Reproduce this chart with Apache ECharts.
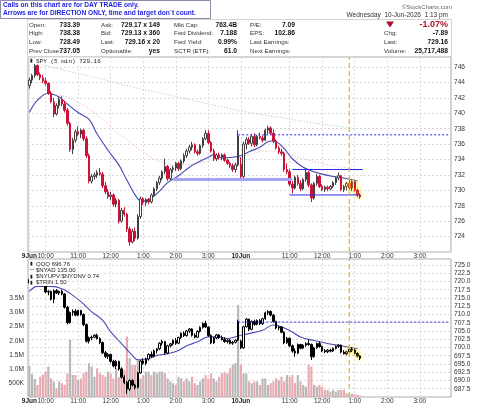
<!DOCTYPE html>
<html>
<head>
<meta charset="utf-8">
<script src="https://cdn.jsdelivr.net/npm/echarts@6/dist/echarts.min.js"></script>
<style>
  html, body { margin: 0; padding: 0; background: #fff; }
  #chart { width: 480px; height: 406px; }
</style>
</head>
<body>
<div id="chart"></div>
<script>
// two sessions of 5 min bars, 9:30 -> 4:00 (78 bars each)
const sessions = ['9Jun', '10Jun'];
const barsPerDay = 78;
const sessionTicks = [
  ['10:00', '11:00', '12:00', '1:00', '2:00', '3:00'],
  ['11:00', '12:00', '1:00', '2:00', '3:00']
];

// SPY 5 min bars [open, high, low, close]
const spyBars = [
  [743.6,744.6,743.2,744.3],[744.3,745.1,743.9,744.9],[744.9,746.4,744.6,746.2],[746.2,746.6,744.8,745.0],
  [745.0,745.3,744.3,744.6],[744.6,745.0,743.9,744.2],[744.2,744.6,743.6,743.9],[743.9,744.0,742.4,742.6],
  [742.6,742.9,741.3,741.5],[741.5,742.0,739.5,739.9],[739.9,741.3,739.7,741.0],[741.0,742.1,740.6,741.8],
  [741.8,742.2,740.9,741.2],[741.2,741.6,740.1,740.4],[740.4,740.7,738.4,738.7],[738.7,738.9,735.0,735.3],
  [735.3,736.8,734.7,736.5],[736.5,737.9,736.2,737.6],[737.6,738.3,737.0,737.3],[737.3,738.0,736.8,737.8],
  [737.8,738.0,736.4,736.7],[736.7,737.0,734.2,734.5],[734.5,734.8,730.9,731.2],[731.2,732.1,730.9,731.8],
  [731.8,732.3,731.4,732.0],[732.0,732.6,731.6,732.3],[732.3,732.9,731.9,732.1],[732.1,732.4,730.3,730.6],
  [730.6,731.1,729.5,729.8],[729.8,730.2,728.9,729.2],[729.2,729.8,728.7,729.4],[729.4,729.6,727.9,728.2],
  [728.2,729.0,727.8,728.7],[728.7,728.9,725.7,726.0],[726.0,727.7,725.8,727.4],[727.4,727.8,726.6,726.9],
  [726.9,727.1,724.6,725.0],[725.0,725.3,722.8,723.3],[723.3,725.0,723.1,724.7],[724.7,725.2,723.4,723.8],
  [723.8,726.9,723.6,726.6],[726.6,729.2,726.3,728.9],[728.9,729.1,728.1,728.4],[728.4,729.0,728.0,728.8],
  [728.8,729.0,728.2,728.5],[728.5,729.6,728.3,729.4],[729.4,730.4,729.2,730.2],[730.2,731.2,729.9,731.0],
  [731.0,731.9,730.7,731.6],[731.6,732.6,731.3,732.4],[732.4,734.1,732.1,733.1],[733.1,733.3,731.2,731.5],
  [731.5,732.9,731.3,732.7],[732.7,733.2,732.3,732.9],[732.9,733.7,732.5,733.5],[733.5,733.7,732.5,732.8],
  [732.8,734.0,732.6,733.8],[733.8,734.8,733.5,734.5],[734.5,735.4,734.2,735.1],[735.1,735.9,734.8,735.6],
  [735.6,736.3,735.2,735.9],[735.9,736.1,734.8,735.0],[735.0,735.3,734.5,734.8],[734.8,736.0,734.6,735.8],
  [735.8,736.9,735.5,736.7],[736.7,737.8,736.5,737.4],[737.4,737.8,736.0,736.2],[736.2,736.4,734.9,735.1],
  [735.1,735.4,733.8,734.1],[734.1,734.8,733.8,734.6],[734.6,734.9,734.0,734.3],[734.3,734.8,733.9,734.6],
  [734.6,734.8,733.7,733.9],[733.9,734.1,733.3,733.5],[733.5,733.7,732.9,733.2],[733.2,733.5,732.4,732.7],
  [732.7,733.6,732.3,733.3],[733.3,737.8,733.1,737.05],
  [733.39,734.3,731.4,731.8],[731.8,736.3,731.6,736.0],[736.0,736.9,735.3,736.6],[736.6,736.9,735.9,736.1],
  [736.1,737.3,735.7,737.0],[737.0,737.4,735.6,735.9],[735.9,737.2,735.7,737.0],[737.0,737.5,736.6,736.8],
  [736.8,737.1,736.2,736.5],[736.5,738.0,736.4,737.8],[737.8,738.38,737.3,738.1],[738.1,738.3,737.2,737.4],
  [737.4,737.9,736.1,736.4],[736.4,736.6,735.3,735.5],[735.5,735.8,734.7,735.0],[735.0,735.4,734.5,734.8],
  [734.8,735.0,732.4,732.7],[732.7,733.5,732.1,732.4],[732.4,732.8,730.5,730.8],[730.8,731.2,729.6,730.3],
  [730.3,731.9,730.1,731.7],[731.7,732.0,730.6,730.9],[730.9,731.3,729.9,730.2],[730.2,731.6,730.0,731.4],
  [731.4,732.8,731.1,732.3],[732.3,732.5,730.4,730.7],[730.7,730.9,728.49,729.0],[729.0,731.1,728.8,730.9],
  [730.9,732.1,730.6,731.8],[731.8,732.0,730.3,730.5],[730.5,730.8,729.9,730.1],[730.1,730.6,729.8,730.4],
  [730.4,730.6,729.9,730.2],[730.2,730.7,730.0,730.5],[730.5,731.2,730.3,731.0],[731.0,731.8,730.7,731.6],
  [731.6,732.3,731.3,731.9],[731.9,732.0,729.9,730.1],[730.1,730.7,729.8,730.5],[730.5,731.1,730.0,730.9],
  [730.9,731.4,730.1,730.3],[730.3,731.3,729.9,731.1],[731.1,731.2,729.8,730.0],[730.0,730.2,729.1,729.4],
  [729.4,729.6,728.9,729.16]
];

// QQQ 5 min bars [open, high, low, close]
const qqqBars = [
  [719.5,721.0,719.0,720.6],[720.6,722.0,720.3,721.7],[721.7,723.2,721.4,722.9],[722.9,723.5,721.2,721.6],
  [721.6,722.0,720.0,720.4],[720.4,720.8,718.9,719.3],[719.3,719.6,716.4,716.8],[716.8,717.3,715.8,717.0],
  [717.0,717.2,714.2,714.6],[714.6,717.6,713.4,717.2],[717.2,717.7,716.2,716.5],[716.5,717.3,715.9,717.0],
  [717.0,717.5,715.8,716.2],[716.2,716.5,711.8,712.2],[712.2,712.6,707.0,707.5],[707.5,710.9,707.2,710.6],
  [710.6,711.5,709.6,711.0],[711.0,711.6,709.4,709.8],[709.8,711.4,709.5,711.2],[711.2,711.4,709.6,710.0],
  [710.0,710.3,706.5,706.9],[706.9,707.3,701.5,701.9],[701.9,703.3,701.2,702.9],[702.9,703.6,702.2,703.1],
  [703.1,704.0,702.8,703.7],[703.7,704.2,702.4,702.7],[702.7,703.1,701.0,701.5],[701.5,701.8,698.0,698.4],
  [698.4,698.9,696.8,697.3],[697.3,698.3,696.5,697.9],[697.9,698.1,695.4,695.8],[695.8,696.3,694.0,694.4],
  [694.4,696.2,693.5,695.8],[695.8,696.0,693.0,693.5],[693.5,694.0,690.6,691.0],[691.0,691.6,688.9,689.4],
  [689.4,689.8,686.0,687.4],[687.4,690.3,686.8,690.0],[690.0,690.4,688.2,688.6],[688.6,689.0,687.3,687.9],
  [687.9,692.6,687.6,692.3],[692.3,696.2,692.0,695.9],[695.9,696.8,694.8,695.2],[695.2,696.9,694.6,696.5],
  [696.5,698.2,696.0,697.9],[697.9,698.8,696.9,697.3],[697.3,699.4,697.0,699.0],[699.0,699.8,698.2,699.6],
  [699.6,701.6,699.2,701.3],[701.3,702.3,700.6,701.8],[701.8,702.0,697.9,698.3],[698.3,700.8,698.0,700.5],
  [700.5,701.4,700.0,701.1],[701.1,702.5,700.6,702.1],[702.1,702.9,700.8,701.3],[701.3,703.3,701.0,703.0],
  [703.0,704.6,702.6,704.3],[704.3,704.9,703.2,703.6],[703.6,705.3,703.3,705.0],[705.0,705.9,704.4,705.6],
  [705.6,705.8,703.3,703.7],[703.7,704.3,702.8,703.1],[703.1,705.2,702.9,704.9],[704.9,706.4,704.5,706.1],
  [706.1,707.6,705.7,707.3],[707.3,708.1,705.9,706.2],[706.2,706.5,703.2,703.6],[703.6,704.0,701.0,701.4],
  [701.4,703.2,701.1,702.9],[702.9,704.1,702.5,703.8],[703.8,704.0,702.6,703.0],[703.0,703.6,702.1,702.4],
  [702.4,703.1,701.4,701.8],[701.8,702.5,701.2,702.2],[702.2,702.6,700.9,701.3],[701.3,702.0,700.8,701.6],
  [701.6,702.5,701.2,702.2],[702.2,708.4,702.0,707.9],
  [701.9,702.3,699.5,699.9],[699.9,706.6,699.6,706.3],[706.3,708.9,706.0,708.6],[708.6,708.7,705.0,705.5],
  [705.5,708.2,705.2,707.9],[707.9,708.4,706.6,707.0],[707.0,708.5,706.7,708.2],[708.2,708.6,706.8,707.2],
  [707.2,709.0,706.8,708.7],[708.7,710.9,708.4,710.5],[710.5,711.3,709.8,710.9],[710.9,711.2,709.4,709.8],
  [709.8,710.2,707.5,707.9],[707.9,708.1,705.5,705.9],[705.9,706.6,705.2,706.2],[706.2,706.4,704.3,704.6],
  [704.6,704.9,701.0,701.4],[701.4,703.2,701.1,702.8],[702.8,703.0,700.1,700.5],[700.5,700.9,698.4,698.9],
  [698.9,699.7,697.2,698.3],[698.3,701.2,698.0,700.9],[700.9,701.1,699.4,699.8],[699.8,701.0,699.5,700.7],
  [700.7,701.6,700.2,701.2],[701.2,702.4,700.5,700.9],[700.9,701.2,696.2,697.2],[697.2,700.2,696.9,699.9],
  [699.9,701.5,699.6,701.2],[701.2,701.8,699.9,700.3],[700.3,700.6,698.6,699.0],[699.0,699.5,698.3,698.7],
  [698.7,699.5,698.3,699.2],[699.2,699.6,698.5,698.9],[698.9,700.0,698.7,699.7],[699.7,700.6,699.4,700.3],
  [700.3,701.0,699.9,700.7],[700.7,700.9,698.2,698.6],[698.6,699.2,697.9,698.1],[698.1,699.0,697.6,698.7],
  [698.7,699.9,698.3,699.5],[699.5,700.1,698.6,699.2],[699.2,699.5,697.9,698.2],[698.2,698.5,697.0,697.4],
  [697.4,697.6,696.2,696.76]
];

// volume per bar, millions
const volume = [
  1.10,0.82,0.64,0.43,0.72,0.80,0.90,1.08,0.66,0.55, 0.31,0.55,0.49,0.43,0.84,2.03,0.78,0.78,0.60,0.66,
  0.84,0.90,1.20,1.08,0.72,1.02,0.84,0.78,0.72,0.90, 0.84,0.66,1.02,0.70,1.02,0.95,2.15,1.38,1.14,1.14,
  1.32,0.66,0.78,0.90,0.90,0.78,0.90,0.84,0.90,0.90, 0.84,0.66,0.55,0.49,0.43,0.72,0.66,0.55,0.66,0.55,
  0.72,0.49,0.43,0.55,0.66,0.78,0.66,0.84,0.66,0.55, 0.72,0.84,0.90,0.84,1.02,1.14,1.20,3.27,
  1.14,0.84,0.84,0.55,0.49,0.55,0.55,0.43,0.66,0.66, 0.43,0.49,0.55,0.66,0.60,0.72,0.55,0.78,0.72,0.78,
  0.49,0.78,0.55,0.43,0.37,1.14,1.08,0.43,0.37,0.43, 0.37,0.25,0.25,0.19,0.25,0.19,0.25,0.25,0.25,0.13,
  0.09,0.12,0.10,0.08,0.05
];

// moving averages, [bar index, value]
const spyMaBlue = [[0,740.1],[3,741.7],[7,742.6],[11,742.1],[14,741.2],[18,740.1],[22,739.2],[25,737.3],[29,735.2],
  [33,733.3],[36,731.3],[40,728.9],[42,728.6],[45,729.0],[48,729.9],[51,731.0],[55,731.9],[59,733.0],[62,733.6],
  [66,734.3],[68,734.6],[71,734.2],[75,734.3],[78,734.5],[81,735.0],[85,735.6],[89,736.4],[91,736.3],[94,735.4],
  [97,734.1],[101,733.0],[105,732.4],[108,732.1],[112,731.8],[116,731.6],[121,731.2]];
const spyMaPink = [[8,742.4],[12,742.3],[17,741.6],[25,739.8],[32,737.6],[37,736.3],[41,735.2],[47,733.9],[55,733.3],
  [62,733.5],[70,734.1],[78,734.4],[88,735.1],[96,734.6],[104,733.8],[112,733.2],[121,732.7]];
const spyMaGreen = [[4,746.4],[15,745.4],[25,744.6],[38,743.4],[50,742.5],[60,741.7],[70,740.9],[78,740.3],
  [90,739.6],[102,738.9],[112,738.4],[121,738.0]];
const qqqMaBlue = [[0,717.0],[3,718.5],[8,718.5],[12,717.8],[15,716.4],[19,713.9],[23,710.8],[27,708.3],[30,704.7],
  [34,701.2],[38,697.6],[40,696.3],[44,696.6],[47,697.6],[51,698.1],[55,699.1],[58,700.5],[62,701.7],[66,703.2],
  [70,703.2],[73,702.7],[77,703.5],[81,704.2],[86,705.2],[90,706.8],[93,706.3],[97,704.7],[100,703.2],[105,702.1],
  [110,701.2],[115,700.5],[121,699.6]];

// drawn trend lines: level, from bar, to bar
const spyLineLevel = [731.4, 732.7, 729.4, 737.2];
const spyLineFrom = [53, 97, 96, 77];
const spyLineTo = [97, 123, 122, 155];
const qqqLineLevel = [707.7];
const qqqLineFrom = [77];
const qqqLineTo = [155];
const callIndex = 118;

// axis ranges
const spyRange = [722, 747.3];
const qqqRange = [685, 726.8];
const volRange = [0, 4.9];

// header texts
const noteLines = ['Calls on this chart are for DAY TRADE only.',
  'Arrows are for DIRECTION ONLY, time and target don`t count.'];
const infoRows = [
  ['Open:', '733.39', 'Ask:', '729.17 x 149', 'Mkt Cap:', '763.4B', 'P/E:', '7.09'],
  ['High:', '738.38', 'Bid:', '729.13 x 360', 'Fwd Dividend:', '7.188', 'EPS:', '102.86'],
  ['Low:', '728.49', 'Last:', '729.16 x 20', 'Fwd Yield:', '0.99%', 'Last Earnings:', ''],
  ['Prev Close:', '737.05', 'Optionable:', 'yes', 'SCTR (ETF):', '61.0', 'Next Earnings:', '']
];
const quoteRows = [['', '-1.07%'], ['Chg:', '-7.89'], ['Last:', '729.16'], ['Volume:', '25,717,488']];
const dateText = 'Wednesday  10-Jun-2026  1:13 pm';
const lowerLegend = ['QQQ 696.76', '$NYAD 135.00', '$NYUPV:$NYDNV 0.74', '$TRIN 1.50'];

// ---------------------------------------------------------------
const FONT = '"Liberation Sans", Arial, sans-serif';
const cats = [];
const tickMap = {};
sessions.forEach((s, d) => {
  for (let k = 0; k < barsPerDay; k++) {
    const t = 570 + 5 * k;
    let h = Math.floor(t / 60);
    const m = t % 60;
    if (h > 12) h -= 12;
    const hm = h + ':' + String(m).padStart(2, '0');
    const key = s + ' ' + hm;
    cats.push(key);
    if (k === 0) tickMap[key] = '{b|' + s + '}';
    else if (sessionTicks[d].indexOf(hm) >= 0) tickMap[key] = hm;
  }
});

function candleData(bars) {
  return bars.map((b, i) => {
    const v = [b[0], b[3], b[2], b[1]];
    if (i < callIndex) return v;
    return { value: v, itemStyle: { shadowColor: '#ffe400', shadowBlur: 4 } };
  });
}

// one line series per drawn level
function levelSeries(axisIdx, level, from, to, styles) {
  return level.map((v, i) => ({
    type: 'line', xAxisIndex: axisIdx, yAxisIndex: axisIdx, z: 5,
    data: [[from[i], v], [to[i], v]], showSymbol: false, silent: true,
    lineStyle: styles[i]
  }));
}

function callLine(axisIdx, range) {
  return {
    type: 'line', xAxisIndex: axisIdx, yAxisIndex: axisIdx, z: 6, silent: true, showSymbol: false,
    data: [[callIndex, range[0]], [callIndex, range[1]]],
    lineStyle: { color: '#f2b400', width: 1.2, type: [5, 3] }
  };
}

function xAxisFor(gridIndex) {
  return {
    type: 'category', gridIndex: gridIndex, data: cats, boundaryGap: true,
    axisLine: { show: false }, axisTick: { show: false },
    axisLabel: {
      interval: (i, v) => tickMap[v] !== undefined,
      formatter: v => tickMap[v] || '',
      hideOverlap: false, showMinLabel: true,
      fontSize: 6.5, fontFamily: FONT, color: '#333', margin: 1,
      rich: { b: { fontSize: 6.5, fontWeight: 'bold', fontFamily: FONT, color: '#222' } }
    },
    splitLine: {
      show: true, alignWithLabel: true,
      interval: (i, v) => tickMap[v] !== undefined,
      lineStyle: { color: '#dcdcdc', type: [2, 2] }
    }
  };
}

const chart = echarts.init(document.getElementById('chart'));

const texts = [];
function T(x, y, s, font, color, align, bg) {
  const st = { text: s, font: font, fill: color, align: align || 'left', verticalAlign: 'middle' };
  if (bg) { st.backgroundColor = bg; st.padding = [0.5, 1]; }
  texts.push({ type: 'text', x: x, y: y, z: 100, style: st });
}

// note box
texts.push({ type: 'rect', shape: { x: 0.5, y: 0.5, width: 210, height: 18 }, z: 99,
  style: { fill: '#fff', stroke: '#8c8ca8', lineWidth: 1 } });
T(3, 5.5, noteLines[0], 'bold 6.6px ' + FONT, '#1f1fe0');
T(3, 13.5, noteLines[1], 'bold 6.6px ' + FONT, '#1f1fe0');
// info frame
texts.push({ type: 'rect', shape: { x: 27.5, y: 19.5, width: 424, height: 37 }, z: 1,
  style: { fill: '#fff', stroke: '#d4d4d4', lineWidth: 1 } });
const rowY = [25, 33.6, 42.2, 50.8];
const labX = [29, 101, 174, 250];
const valX = [80, 160, 237, 295];
infoRows.forEach((r, ri) => {
  for (let c = 0; c < 4; c++) {
    T(labX[c], rowY[ri], r[c * 2], '6.2px ' + FONT, '#333');
    if (r[c * 2 + 1]) T(valX[c], rowY[ri], r[c * 2 + 1], 'bold 6.7px ' + FONT, '#111', 'right');
  }
});
T(452, 7, '\u00a9StockCharts.com', '6px ' + FONT, '#666', 'right');
T(448, 15.5, dateText, '6.5px ' + FONT, '#333', 'right');
texts.push({ type: 'polygon', z: 100, shape: { points: [[386, 21.5], [394, 21.5], [390, 27.5]] },
  style: { fill: '#a8102e' } });
quoteRows.forEach((r, ri) => {
  if (r[0]) T(384, rowY[ri], r[0], '6.2px ' + FONT, '#333');
  T(448, rowY[ri] - (ri === 0 ? 0.5 : 0), r[1], ri === 0 ? 'bold 9px ' + FONT : 'bold 6.7px ' + FONT,
    ri === 0 ? '#b0102e' : '#111', 'right');
});
// panel legends
T(29.5, 61, '\u25AE', '5px ' + FONT, '#222');
T(35, 61, 'SPY (5 min) 729.16', '6px "Liberation Mono", monospace', '#222', 'left', 'rgba(255,255,255,0.85)');
const legIcons = ['\u25AE', '\u2014', '\u25AE', '\u25AE'];
const legY = [264, 270, 276.2, 282.4];
texts.push({ type: 'rect', shape: { x: 29, y: 260, width: 27, height: 26 }, z: 99, style: { fill: '#fff' } });
lowerLegend.forEach((s, i) => {
  T(29.5, legY[i], legIcons[i], '5px ' + FONT, '#222');
  T(35, legY[i], s, '6px ' + FONT, '#222', 'left', '#fff');
});

const blueMark = c => ({ color: c, width: 1, type: 'solid' });
const series = [
  { type: 'line', xAxisIndex: 0, yAxisIndex: 0, data: spyMaGreen, smooth: 0.4, showSymbol: false,
    lineStyle: { color: '#9fcf9f', width: 1, type: [1, 2] }, z: 1 },
  { type: 'line', xAxisIndex: 0, yAxisIndex: 0, data: spyMaPink, smooth: 0.4, showSymbol: false,
    lineStyle: { color: '#f0a8b4', width: 1, type: [1, 2] }, z: 1 },
  { type: 'line', xAxisIndex: 0, yAxisIndex: 0, data: spyMaBlue, smooth: 0.4, showSymbol: false,
    lineStyle: { color: '#4646b4', width: 1.1 }, z: 3 },
  { type: 'candlestick', name: 'SPY', xAxisIndex: 0, yAxisIndex: 0, data: candleData(spyBars),
    barWidth: '72%', z: 4,
    itemStyle: { color: '#ffffff', color0: '#cc1238', borderColor: '#404040', borderColor0: '#cc1238', borderWidth: 1 } },
  { type: 'bar', xAxisIndex: 1, yAxisIndex: 2, data: volume, barWidth: '80%', z: 1,
    itemStyle: { color: p => qqqBars[p.dataIndex][3] >= qqqBars[p.dataIndex][0] ? '#b8b8b8' : '#e9aab2' } },
  { type: 'line', xAxisIndex: 1, yAxisIndex: 1, data: qqqMaBlue, smooth: 0.4, showSymbol: false,
    lineStyle: { color: '#4c4cb8', width: 1.1 }, z: 3 },
  { type: 'candlestick', name: 'QQQ', xAxisIndex: 1, yAxisIndex: 1, data: candleData(qqqBars),
    barWidth: '72%', z: 4,
    itemStyle: { color: '#ffffff', color0: '#000000', borderColor: '#000000', borderColor0: '#000000', borderWidth: 1 } },
  callLine(0, spyRange),
  callLine(1, qqqRange)
].concat(
  levelSeries(0, spyLineLevel, spyLineFrom, spyLineTo, [
    { color: '#a4a4f4', width: 3, type: 'solid' },
    blueMark('#2a2ae8'),
    blueMark('#2a2ae8'),
    { color: '#3030f0', width: 1, type: [2, 2] }
  ]),
  levelSeries(1, qqqLineLevel, qqqLineFrom, qqqLineTo, [
    { color: '#3030f0', width: 1, type: [2, 2] }
  ])
);

const option = {
  animation: false,
  backgroundColor: '#fff',
  graphic: { elements: texts },
  grid: [
    { left: 28, right: 29, top: 57, height: 195, show: true, backgroundColor: '#fff',
      borderColor: '#a8a8a8', borderWidth: 1, outerBoundsMode: 'none' },
    { left: 28, right: 29, top: 259, height: 138, show: true, backgroundColor: '#fff',
      borderColor: '#a8a8a8', borderWidth: 1, outerBoundsMode: 'none' }
  ],
  xAxis: [xAxisFor(0), xAxisFor(1)],
  yAxis: [
    { type: 'value', gridIndex: 0, position: 'right', min: spyRange[0], max: spyRange[1], interval: 2,
      axisLine: { show: false }, axisTick: { show: false },
      axisLabel: { fontSize: 6.6, fontFamily: FONT, color: '#333', margin: 3,
        showMinLabel: false, showMaxLabel: false },
      splitLine: { lineStyle: { color: '#dcdcdc', type: [2, 2] } } },
    { type: 'value', gridIndex: 1, position: 'right', min: qqqRange[0], max: qqqRange[1], interval: 2.5,
      axisLine: { show: false }, axisTick: { show: false },
      axisLabel: { fontSize: 6.6, fontFamily: FONT, color: '#333', margin: 3,
        showMinLabel: false, showMaxLabel: false, formatter: v => v.toFixed(1) },
      splitLine: { lineStyle: { color: '#dcdcdc', type: [2, 2] } } },
    { type: 'value', gridIndex: 1, position: 'left', min: volRange[0], max: volRange[1], interval: 0.5,
      axisLine: { show: false }, axisTick: { show: false }, splitLine: { show: false },
      axisLabel: { fontSize: 6.6, fontFamily: FONT, color: '#333', margin: 4,
        showMinLabel: false, showMaxLabel: false,
        formatter: v => (v < 0.25 || v > 3.6) ? '' : (v < 1 ? Math.round(v * 1000) + 'K' : v.toFixed(1) + 'M') } }
  ],
  series: series
};

chart.setOption(option);
</script>
</body>
</html>
